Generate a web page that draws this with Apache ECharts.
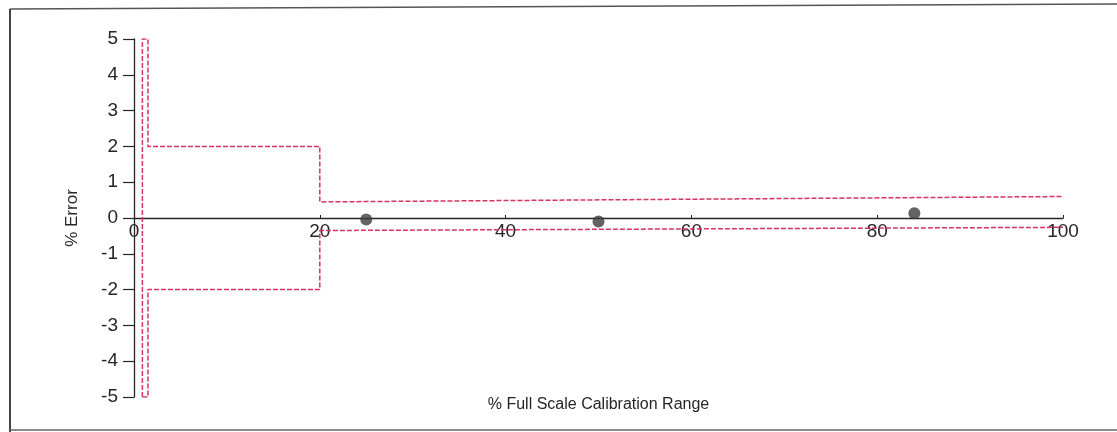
<!DOCTYPE html>
<html>
<head>
<meta charset="utf-8">
<script src="https://cdn.jsdelivr.net/npm/echarts@6/dist/echarts.min.js"></script>
<style>
  html, body { margin: 0; padding: 0; background: #fff; }
  #chart { width: 1117px; height: 432px; }
</style>
</head>
<body>
<div id="chart"></div>
<script>
// Tolerance envelope (% error limits vs % of full-scale range).
// The upper trace carries the full-height edge near 0 %; the lower trace joins it at -5.
const upperX = [0.9, 0.9, 1.5, 1.5, 20, 20, 100];
const upperLimit = [-5, 5, 5, 2, 2, 0.45, 0.6];
const lowerX = [0.9, 1.5, 1.5, 20, 20, 100];
const lowerLimit = [-5, -5, -2, -2, -0.35, -0.26];

// Measured calibration points
const pointX = [25, 50, 84];
const pointError = [-0.04, -0.1, 0.13];

// Axis ticks
const xTicks = [0, 20, 40, 60, 80, 100];
const yTicks = [-5, -4, -3, -2, -1, 0, 1, 2, 3, 4, 5];

const RED = '#d6345f';
const INK = '#262626';
const FONT = 'Liberation Sans, Arial, sans-serif';

const GRID = { left: 134, right: 54, top: 39, bottom: 35 };
const PLOT_H = 432 - GRID.top - GRID.bottom;

const pairs = (xs, ys) => xs.map((x, i) => [x, ys[i]]);

const chart = echarts.init(document.getElementById('chart'), null, { renderer: 'canvas' });

chart.setOption({
  backgroundColor: '#fff',
  animation: false,
  grid: Object.assign({ containLabel: false, outerBoundsMode: 'none' }, GRID),
  xAxis: {
    type: 'value',
    position: 'bottom',
    // lift the axis up to the zero line of the y scale
    offset: -PLOT_H / 2,
    min: xTicks[0],
    max: xTicks[xTicks.length - 1],
    interval: 20,
    axisLine: { onZero: false, lineStyle: { color: INK, width: 1.3 } },
    axisTick: { show: true, inside: true, length: 3, lineStyle: { color: INK } },
    axisLabel: { color: INK, fontSize: 19, fontFamily: FONT, margin: 4 },
    splitLine: { show: false },
    name: '% Full Scale Calibration Range',
    nameLocation: 'middle',
    nameGap: 179,
    nameTextStyle: { color: INK, fontSize: 16, fontFamily: FONT }
  },
  yAxis: {
    type: 'value',
    min: yTicks[0],
    max: yTicks[yTicks.length - 1],
    interval: 1,
    axisLine: { onZero: false, lineStyle: { color: INK, width: 1.3 } },
    axisTick: { show: true, length: 11, lineStyle: { color: INK, width: 1.2 } },
    axisLabel: { color: INK, fontSize: 19, fontFamily: FONT, margin: 16 },
    splitLine: { show: false },
    name: '% Error',
    nameLocation: 'middle',
    nameGap: 53,
    nameRotate: 90,
    nameTextStyle: { color: INK, fontSize: 17, fontFamily: FONT }
  },
  series: [
    {
      name: 'Upper limit',
      type: 'line',
      data: pairs(upperX, upperLimit),
      showSymbol: false,
      lineStyle: { color: RED, width: 1.5, type: [5, 2] },
      z: 3
    },
    {
      name: 'Lower limit',
      type: 'line',
      data: pairs(lowerX, lowerLimit),
      showSymbol: false,
      lineStyle: { color: RED, width: 1.5, type: [5, 2] },
      z: 3
    },
    {
      name: 'Measured',
      type: 'scatter',
      data: pairs(pointX, pointError),
      symbolSize: 12,
      itemStyle: { color: '#3a3d3c' },
      z: 5
    }
  ],
  graphic: [
    { type: 'line', shape: { x1: 10, y1: 9, x2: 1117, y2: 4 }, style: { stroke: '#555', lineWidth: 1.5 } },
    { type: 'line', shape: { x1: 10, y1: 9, x2: 10, y2: 432 }, style: { stroke: '#444', lineWidth: 2 } },
    { type: 'line', shape: { x1: 10, y1: 430, x2: 1117, y2: 430 }, style: { stroke: '#666', lineWidth: 1.5 } }
  ]
});
</script>
</body>
</html>
